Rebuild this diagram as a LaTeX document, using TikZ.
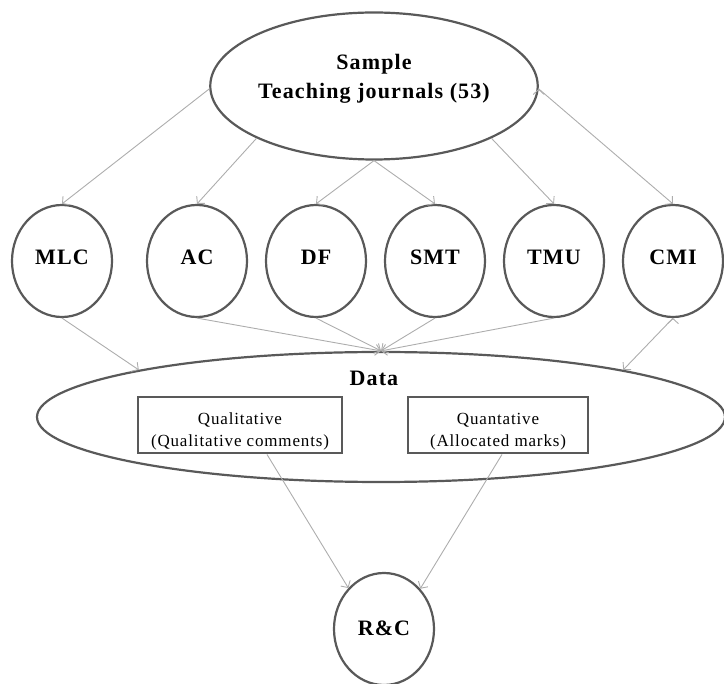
\documentclass[tikz,border=0pt]{standalone}
\usepackage{fontspec}
\setmainfont{Liberation Serif}
\usetikzlibrary{arrows.meta,positioning,shapes.geometric}

\begin{document}
\begin{tikzpicture}[x=1pt,y=-1pt,node distance=119pt,on grid,
	bubble/.style={ellipse,draw=black!65,line width=2.2pt,inner sep=0pt,minimum width=100pt,minimum height=112pt,text depth=8pt,font=\fontsize{22}{29}\selectfont\bfseries\addfontfeatures{LetterSpace=5}},
	box/.style={rectangle,draw=black!65,line width=2.6pt,minimum height=54pt,align=center,font=\fontsize{17}{22}\selectfont\addfontfeatures{LetterSpace=5}},
	flow/.style={draw=black!32,line width=0.9pt,-{Straight Barb[length=5pt,width=11pt]}}]
	\useasboundingbox (0,0) rectangle (724,684);
	\node[bubble,minimum width=322pt,minimum height=147pt,align=center,text depth=19pt] (sample) at (374,86) {Sample\\Teaching journals (53)};
	\node[bubble] (mlc) at (62,261) {MLC};
	\node[bubble] (ac) [right=135pt of mlc] {AC};
	\node[bubble] (df) [right=of ac] {DF};
	\node[bubble] (smt) [right=of df] {SMT};
	\node[bubble] (tmu) [right=of smt] {TMU};
	\node[bubble] (cmi) [right=of tmu] {CMI};
	\node[bubble,minimum width=688pt,minimum height=130pt] (data) at (381,417) {};
	\node[font=\fontsize{22}{29}\selectfont\bfseries\addfontfeatures{LetterSpace=5}] (datalbl) at (374,378) {Data};
	\node[box,minimum width=204pt] (qual) at (240,425) {\rule{0pt}{24pt}Qualitative\\(Qualitative comments)};
	\node[box,minimum width=180pt] (quant) at (498,425) {\rule{0pt}{24pt}Quantative\\(Allocated marks)};
	\node[bubble,text depth=2pt] (rc) at (384,629) {R\&C};
	% sample to the six groups
	\path[flow]
	(sample.181) edge (mlc.north)
	(sample.204) edge (ac.north)
	(sample.south) edge (df.north)
	(sample.south) edge (smt.north)
	(sample.336) edge (tmu.north)
	(sample.359) edge (cmi.north);
	% groups to data
	\path[flow]
	(mlc.south) edge (data.169)
	(ac.south) edge (data.north)
	(df.south) edge (data.north)
	(smt.south) edge (data.north)
	(tmu.south) edge (data.north)
	(cmi.south) edge (data.11);
	\draw[flow] ([xshift=27pt]qual.south) -- (rc.131);
	\draw[flow] ([xshift=4pt]quant.south) -- (rc.48);
\end{tikzpicture}
\end{document}
